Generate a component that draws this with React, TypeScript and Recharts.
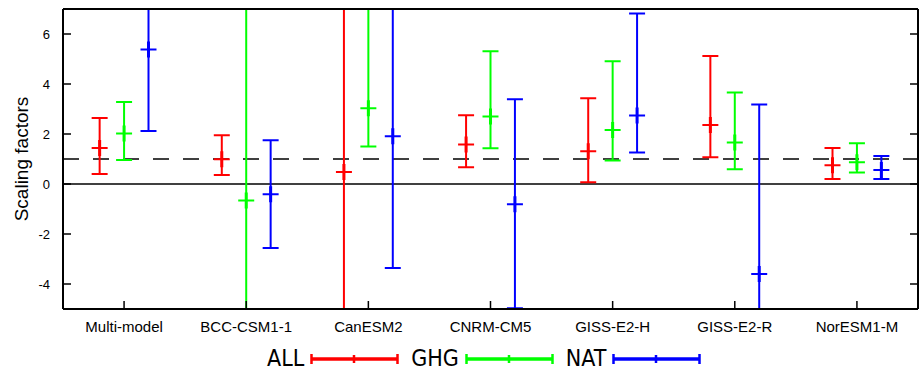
import React from 'react';
import { ComposedChart, Scatter, XAxis, YAxis, ErrorBar, ReferenceLine } from 'recharts';

// ---- data ----
const categories = ['Multi-model', 'BCC-CSM1-1', 'CanESM2', 'CNRM-CM5', 'GISS-E2-H', 'GISS-E2-R', 'NorESM1-M'];

const allBest = [1.44, 0.99, 0.48, 1.58, 1.31, 2.36, 0.75];
const allLow = [0.4, 0.36, -9.0, 0.67, 0.07, 1.07, 0.2];
const allHigh = [2.64, 1.95, 10.0, 2.75, 3.43, 5.12, 1.44];

const ghgBest = [2.02, -0.66, 3.03, 2.7, 2.16, 1.66, 0.87];
const ghgLow = [0.96, -9.0, 1.5, 1.43, 0.94, 0.59, 0.46];
const ghgHigh = [3.28, 9.0, 9.0, 5.31, 4.91, 3.66, 1.63];

const natBest = [5.38, -0.41, 1.91, -0.81, 2.74, -3.6, 0.56];
const natLow = [2.12, -2.56, -3.36, -4.97, 1.26, -9.0, 0.2];
const natHigh = [9.0, 1.75, 9.0, 3.39, 6.82, 3.18, 1.12];

const yTicks = [-4, -2, 0, 2, 4, 6];
const seriesNames = ['ALL', 'GHG', 'NAT'];

// ---- styling ----
const colors = ['#ff0000', '#00ff00', '#0000ff'];
const offsets = [-0.2, 0, 0.2];
const xTicks = categories.map((_, i) => i + 0.5);

const CHART_W = 922;
const CHART_H = 371;
const MARGIN = { top: 8, right: 0, bottom: 32, left: 0 };
const Y_AXIS_W = 63;
const Y_AXIS_R_W = 4;
const X_AXIS_H = 30;
const X_AXIS_TOP_H = 1;
const plotBox = {
  x: MARGIN.left + Y_AXIS_W,
  y: MARGIN.top + X_AXIS_TOP_H,
  w: CHART_W - MARGIN.left - MARGIN.right - Y_AXIS_W - Y_AXIS_R_W,
  h: CHART_H - MARGIN.top - MARGIN.bottom - X_AXIS_H - X_AXIS_TOP_H,
};

function build(best: number[], low: number[], high: number[], k: number) {
  return categories.map((c, i) => ({
    name: c,
    x: i + 0.5 + offsets[k],
    y: best[i],
    err: [best[i] - low[i], high[i] - best[i]],
  }));
}

const seriesData = [
  build(allBest, allLow, allHigh, 0),
  build(ghgBest, ghgLow, ghgHigh, 1),
  build(natBest, natLow, natHigh, 2),
];

const tickFont = "'Liberation Sans', Arial, sans-serif";

const makeMarker = (color: string) => (props: any) => {
  const { cx, cy } = props;
  return (
    <g>
      <line x1={cx - 8} x2={cx + 8} y1={cy} y2={cy} stroke={color} strokeWidth={2} />
      <line x1={cx} x2={cx} y1={cy - 8} y2={cy + 8} stroke={color} strokeWidth={3} />
    </g>
  );
};

const BottomTick = (props: any) => {
  const { x, y, payload } = props;
  const idx = Math.floor(payload.value);
  return (
    <g>
      <line x1={x} x2={x} y1={y} y2={y - 8} stroke="#000" strokeWidth={1.5} />
      <text x={x} y={y + 23} textAnchor="middle" fontSize={15} fontFamily={tickFont} fill="#000">
        {categories[idx]}
      </text>
    </g>
  );
};

const TopTick = (props: any) => {
  const { x, y } = props;
  return <line x1={x} x2={x} y1={y} y2={y + 8} stroke="#000" strokeWidth={1.5} />;
};

const LeftTick = (props: any) => {
  const { x, y, payload } = props;
  return (
    <g>
      <line x1={x} x2={x + 8} y1={y} y2={y} stroke="#000" strokeWidth={1.5} />
      <text x={x - 13} y={y + 5} textAnchor="end" fontSize={13} fontFamily={tickFont} fill="#000">
        {payload.value}
      </text>
    </g>
  );
};

const RightTick = (props: any) => {
  const { x, y } = props;
  return <line x1={x} x2={x - 8} y1={y} y2={y} stroke="#000" strokeWidth={1.5} />;
};

const LegendIcon = ({ color }: { color: string }) => (
  <svg width={90} height={14} style={{ display: 'block' }}>
    <line x1={1} x2={88} y1={7} y2={7} stroke={color} strokeWidth={3.5} />
    <line x1={1.5} x2={1.5} y1={2} y2={12} stroke={color} strokeWidth={2.5} />
    <line x1={87.5} x2={87.5} y1={2} y2={12} stroke={color} strokeWidth={2.5} />
    <line x1={44} x2={44} y1={3} y2={11} stroke={color} strokeWidth={2.5} />
  </svg>
);

const clipCss =
  '.recharts-surface [class*="errorBar"], ' +
  colors.map((c) => `.recharts-surface [stroke="${c}"]`).join(', ') +
  ' { clip-path: url(#sf-plot-clip); }';

export default function App() {
  return (
    <div style={{ position: 'absolute', left: 0, top: 0, width: CHART_W, height: CHART_H, background: '#fff' }}>
      <style>{clipCss}</style>
      <svg width={1} height={1} style={{ position: 'absolute', left: 0, top: 0 }}>
        <defs>
          <clipPath id="sf-plot-clip" clipPathUnits="userSpaceOnUse">
            <rect x={plotBox.x} y={plotBox.y} width={plotBox.w} height={plotBox.h} />
          </clipPath>
        </defs>
      </svg>
      <ComposedChart width={CHART_W} height={CHART_H} margin={MARGIN}>
        <XAxis
          xAxisId={0}
          type="number"
          dataKey="x"
          domain={[0, 7]}
          allowDataOverflow
          ticks={xTicks}
          interval={0}
          height={X_AXIS_H}
          tickSize={0}
          tickMargin={0}
          tickLine={false}
          axisLine={{ stroke: '#000', strokeWidth: 2 }}
          tick={<BottomTick />}
        />
        <XAxis
          xAxisId="top"
          orientation="top"
          type="number"
          domain={[0, 7]}
          allowDataOverflow
          ticks={xTicks}
          interval={0}
          height={X_AXIS_TOP_H}
          tickSize={0}
          tickMargin={0}
          tickLine={false}
          axisLine={{ stroke: '#000', strokeWidth: 2 }}
          tick={<TopTick />}
        />
        <YAxis
          yAxisId={0}
          type="number"
          domain={[-5, 7]}
          allowDataOverflow
          ticks={yTicks}
          interval={0}
          width={Y_AXIS_W}
          tickSize={0}
          tickMargin={0}
          tickLine={false}
          axisLine={{ stroke: '#000', strokeWidth: 2 }}
          tick={<LeftTick />}
          label={{
            value: 'Scaling factors',
            angle: -90,
            position: 'center',
            dx: -10,
            style: { fontSize: 19, fontFamily: tickFont, fill: '#000' },
          }}
        />
        <YAxis
          yAxisId="right"
          orientation="right"
          type="number"
          domain={[-5, 7]}
          allowDataOverflow
          ticks={yTicks}
          interval={0}
          width={Y_AXIS_R_W}
          tickSize={0}
          tickMargin={0}
          tickLine={false}
          axisLine={{ stroke: '#000', strokeWidth: 2 }}
          tick={<RightTick />}
        />
        <ReferenceLine y={1} stroke="#000" strokeWidth={1.5} strokeDasharray="16 14" />
        <ReferenceLine y={0} stroke="#000" strokeWidth={1.5} />
        {seriesData.map((d, k) => (
          <Scatter
            key={seriesNames[k]}
            name={seriesNames[k]}
            data={d}
            dataKey="y"
            isAnimationActive={false}
            shape={makeMarker(colors[k])}
          >
            <ErrorBar
              dataKey="err"
              direction="y"
              width={8}
              stroke={colors[k]}
              strokeWidth={2}
              isAnimationActive={false}
            />
          </Scatter>
        ))}
      </ComposedChart>
      <div
        style={{
          position: 'absolute',
          left: 267,
          top: 347,
          display: 'flex',
          alignItems: 'center',
          fontFamily: "'DejaVu Sans Condensed', 'DejaVu Sans', sans-serif",
          fontStretch: 'condensed',
          fontSize: 23,
          lineHeight: '23px',
          color: '#000',
        }}
      >
        {seriesNames.map((n, k) => (
          <div key={n} style={{ display: 'flex', alignItems: 'center', marginRight: 11 }}>
            <span style={{ marginRight: 6 }}>{n}</span>
            <LegendIcon color={colors[k]} />
          </div>
        ))}
      </div>
    </div>
  );
}
